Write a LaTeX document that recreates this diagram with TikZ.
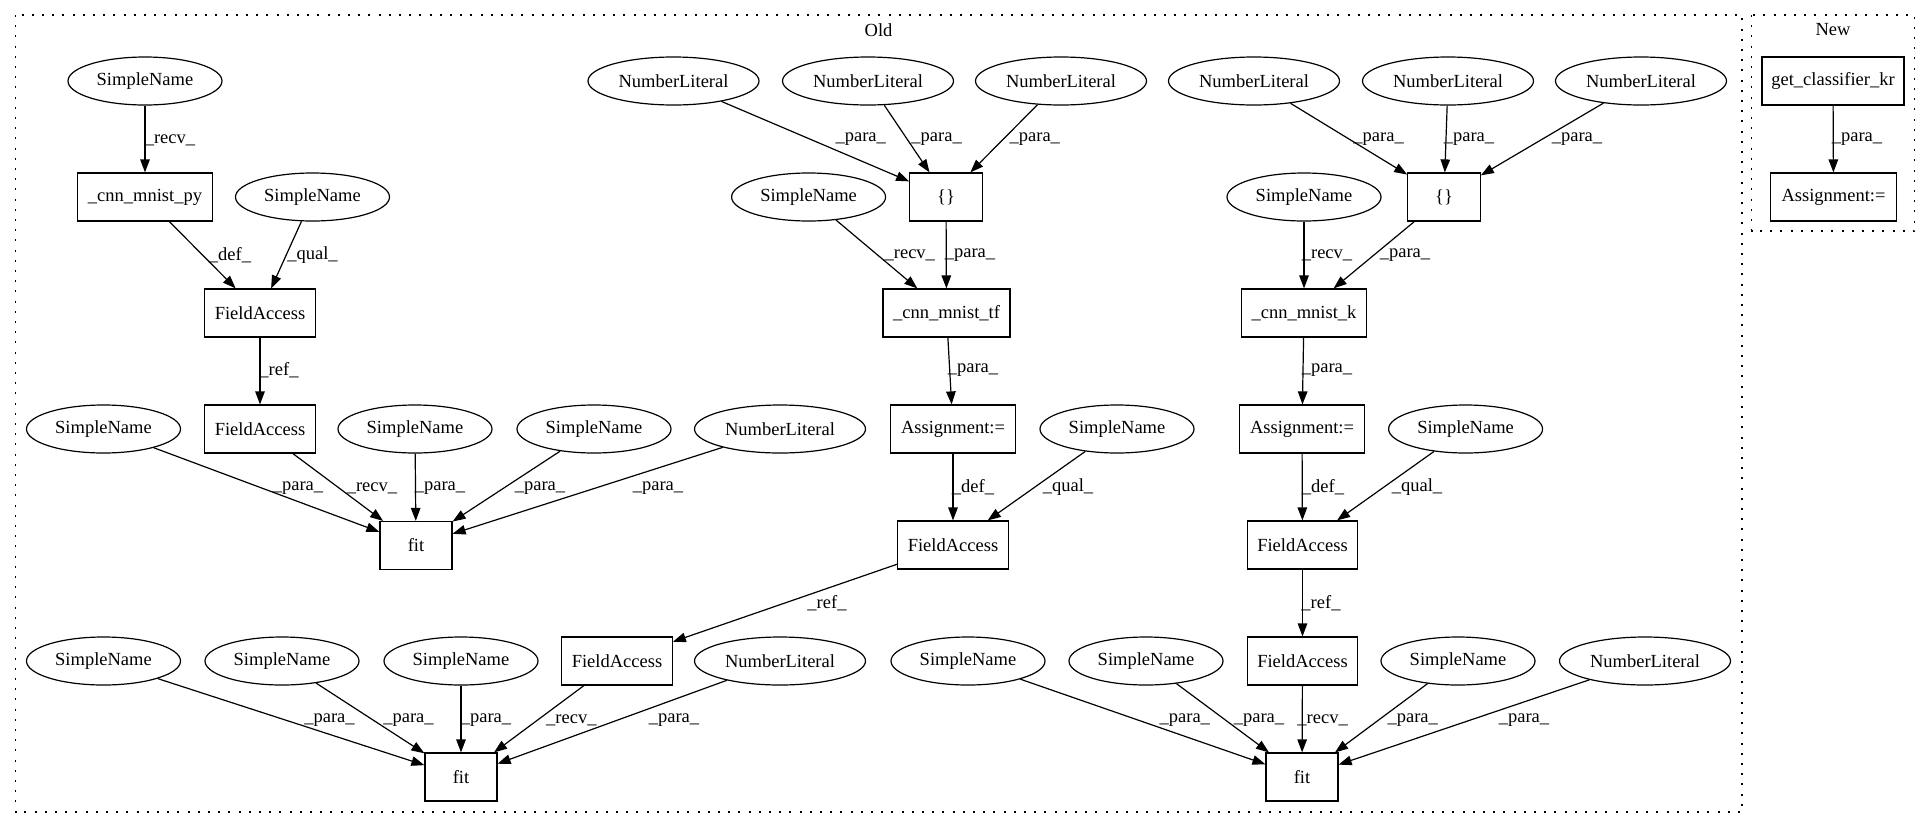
\documentclass[tikz,border=0pt]{standalone}
\usepackage{fontspec}
\setmainfont{Liberation Serif}
\usetikzlibrary{shapes.geometric,arrows.meta}
\tikzset{
  base/.style={font=\fontsize{18.5}{20}\selectfont, inner sep=0pt, line width=1.2pt},
  ell/.style={base, draw, ellipse, minimum height=48pt},
  sname/.style={ell, minimum width=154pt},
  nlit/.style={ell, minimum width=171pt},
  box/.style={base, draw, rectangle, minimum height=48pt},
  edge/.style={line width=1.2pt, -{Triangle[length=13pt,width=9.5pt]}},
  lab/.style={font=\fontsize{18.5}{20}\selectfont, inner sep=0pt},
  cluster/.style={line width=1.3pt, dash pattern=on 2pt off 8.2pt},
}
\begin{document}
\begin{tikzpicture}[x=1pt,y=-1pt]
\useasboundingbox (0,0) rectangle (1931,828);
% clusters
\draw[cluster] (15.6,15) rectangle (1742,812);
\draw[cluster] (1751.5,15) rectangle (1914.7,231);
\node[lab] (oldlab) at (878.6,30) {Old};
\node[lab] (newlab) at (1833,30) {New};

% Row 1
\node[sname] (snA) at (145,81) {SimpleName};
\node[nlit] (nl1) at (673.5,81) {NumberLiteral};
\node[nlit] (nl2) at (868,81) {NumberLiteral};
\node[nlit] (nl3) at (1061,81) {NumberLiteral};
\node[nlit] (nl4) at (1254,81) {NumberLiteral};
\node[nlit] (nl5) at (1448,81) {NumberLiteral};
\node[nlit] (nl6) at (1641,81) {NumberLiteral};
\node[box, minimum width=142pt] (gck) at (1833,81) {get\_classifier\_kr};

% Row 2
\node[box, minimum width=135pt] (py) at (145,197) {\_cnn\_mnist\_py};
\node[sname] (snB) at (312.5,197) {SimpleName};
\node[sname] (sntf) at (808.6,197) {SimpleName};
\node[box, minimum width=72.5pt] (br1) at (946,197) {\{\}};
\node[sname] (snk) at (1304,197) {SimpleName};
\node[box, minimum width=72.5pt] (br2) at (1444,197) {\{\}};
\node[box, minimum width=126pt] (asnew) at (1833.5,197) {Assignment:=};

% Row 3
\node[box, minimum width=110.5pt] (fa1) at (260,313) {FieldAccess};
\node[box, minimum width=127pt] (tf) at (946.5,313) {\_cnn\_mnist\_tf};
\node[box, minimum width=125pt] (k) at (1304,313) {\_cnn\_mnist\_k};

% Row 4
\node[sname] (sn4a) at (103.5,429) {SimpleName};
\node[box, minimum width=110.5pt] (fa2) at (260,429) {FieldAccess};
\node[sname] (sn4b) at (415,429) {SimpleName};
\node[sname] (sn4c) at (594,429) {SimpleName};
\node[nlit] (nl4r) at (780,429) {NumberLiteral};
\node[box, minimum width=125.5pt] (as1) at (953,429) {Assignment:=};
\node[sname] (sn4d) at (1117,429) {SimpleName};
\node[box, minimum width=125.5pt] (as2) at (1302,429) {Assignment:=};
\node[sname] (sn4e) at (1465.6,429) {SimpleName};

% Row 5
\node[box, minimum width=72pt] (fit1) at (416,545.5) {fit};
\node[box, minimum width=110.5pt] (fa4) at (953,545) {FieldAccess};
\node[box, minimum width=110.5pt] (fa5) at (1302.5,545) {FieldAccess};

% Row 6
\node[sname] (sn6a) at (103.5,661) {SimpleName};
\node[sname] (sn6b) at (282,661) {SimpleName};
\node[sname] (sn6c) at (461,661) {SimpleName};
\node[box, minimum width=110.5pt] (fa3) at (617,661) {FieldAccess};
\node[nlit] (nl6r) at (780,661) {NumberLiteral};
\node[sname] (sn6d) at (968,661) {SimpleName};
\node[sname] (sn6e) at (1146,661) {SimpleName};
\node[box, minimum width=110.5pt] (fa6) at (1302.5,661) {FieldAccess};
\node[sname] (sn6f) at (1458,661) {SimpleName};
\node[nlit] (nl6s) at (1645,661) {NumberLiteral};

% Row 7
\node[box, minimum width=72pt] (fit2) at (461,777) {fit};
\node[box, minimum width=72pt] (fit3) at (1302,777) {fit};

% Edges, left group
\draw[edge] (snA) -- (py);
\node[lab] at (170,140) {\_recv\_};
\draw[edge] (py) -- (fa1);
\node[lab] at (230,255) {\_def\_};
\draw[edge] (snB) -- (fa1);
\node[lab] at (312.5,255) {\_qual\_};
\draw[edge] (fa1) -- (fa2);
\node[lab] at (279,370) {\_ref\_};
\draw[edge] (sn4a) -- (fit1);
\node[lab] at (298,488) {\_para\_};
\draw[edge] (fa2) -- (fit1);
\node[lab] at (372,488) {\_recv\_};
\draw[edge] (sn4b) -- (fit1);
\node[lab] at (440,488) {\_para\_};
\draw[edge] (sn4c) -- (fit1);
\node[lab] at (540,488) {\_para\_};
\draw[edge] (nl4r) -- (fit1);
\node[lab] at (658,488) {\_para\_};

% middle group
\draw[edge] (nl1) -- (br1);
\node[lab] at (860.7,139) {\_para\_};
\draw[edge] (nl2) -- (br1);
\node[lab] at (936.6,139) {\_para\_};
\draw[edge] (nl3) -- (br1);
\node[lab] at (1034.8,139) {\_para\_};
\draw[edge] (sntf) -- (tf);
\node[lab] at (909.8,255) {\_recv\_};
\draw[edge] (br1) -- (tf);
\node[lab] at (970,255) {\_para\_};
\draw[edge] (tf) -- (as1);
\node[lab] at (973,370) {\_para\_};
\draw[edge] (as1) -- (fa4);
\node[lab] at (973,487) {\_def\_};
\draw[edge] (sn4d) -- (fa4);
\node[lab] at (1068,487) {\_qual\_};
\draw[edge] (fa4) -- (fa3);
\node[lab] at (827,603) {\_ref\_};
\draw[edge] (sn6a) -- (fit2);
\node[lab] at (329.5,720) {\_para\_};
\draw[edge] (sn6b) -- (fit2);
\node[lab] at (408.5,720) {\_para\_};
\draw[edge] (sn6c) -- (fit2);
\node[lab] at (486,720) {\_para\_};
\draw[edge] (fa3) -- (fit2);
\node[lab] at (571.4,720) {\_recv\_};
\draw[edge] (nl6r) -- (fit2);
\node[lab] at (674,720) {\_para\_};

% right group
\draw[edge] (nl4) -- (br2);
\node[lab] at (1378.6,139) {\_para\_};
\draw[edge] (nl5) -- (br2);
\node[lab] at (1469,139) {\_para\_};
\draw[edge] (nl6) -- (br2);
\node[lab] at (1577,139) {\_para\_};
\draw[edge] (snk) -- (k);
\node[lab] at (1327,255) {\_recv\_};
\draw[edge] (br2) -- (k);
\node[lab] at (1405,255) {\_para\_};
\draw[edge] (k) -- (as2);
\node[lab] at (1327,370) {\_para\_};
\draw[edge] (as2) -- (fa5);
\node[lab] at (1323,487) {\_def\_};
\draw[edge] (sn4e) -- (fa5);
\node[lab] at (1417,487) {\_qual\_};
\draw[edge] (fa5) -- (fa6);
\node[lab] at (1321,603) {\_ref\_};
\draw[edge] (sn6d) -- (fit3);
\node[lab] at (1184.8,720) {\_para\_};
\draw[edge] (sn6e) -- (fit3);
\node[lab] at (1259,720) {\_para\_};
\draw[edge] (fa6) -- (fit3);
\node[lab] at (1322.6,720) {\_recv\_};
\draw[edge] (sn6f) -- (fit3);
\node[lab] at (1412.7,720) {\_para\_};
\draw[edge] (nl6s) -- (fit3);
\node[lab] at (1524,720) {\_para\_};

% New cluster
\draw[edge] (gck) -- (asnew);
\node[lab] at (1857,139) {\_para\_};
\end{tikzpicture}
\end{document}
